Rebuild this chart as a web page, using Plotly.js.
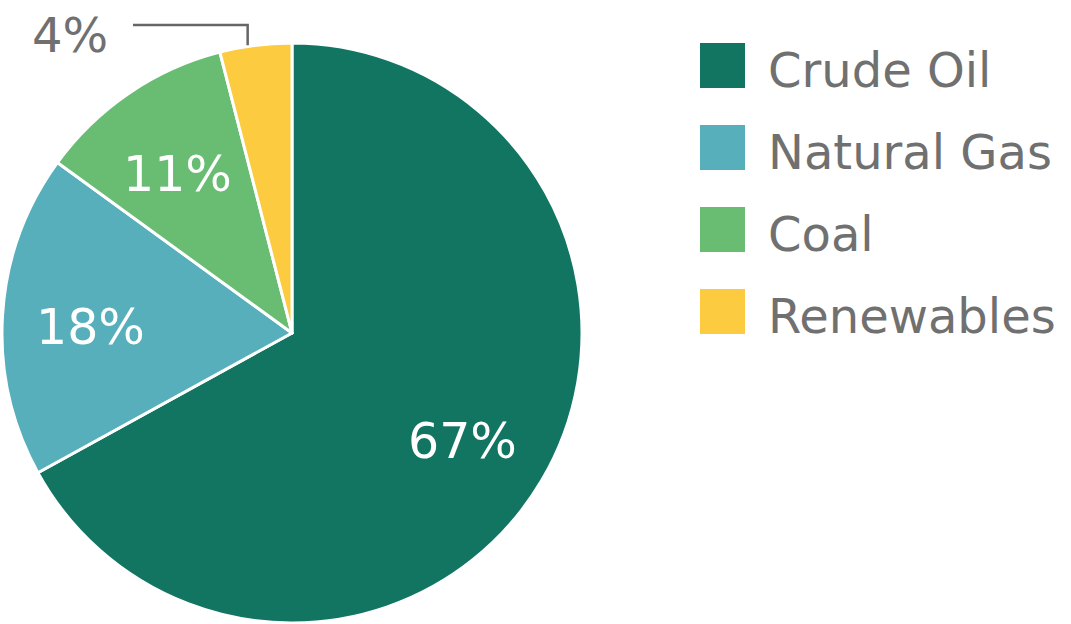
<!DOCTYPE html>
<html>
<head>
<meta charset="utf-8">
<script src="https://cdn.plot.ly/plotly-3.0.1.min.js"></script>
<style>html,body{margin:0;padding:0;background:#fff;}#chart{width:1071px;height:624px;}</style>
</head>
<body>
<div id="chart"></div>
<script>
// Data
const categories = ["Crude Oil", "Natural Gas", "Coal", "Renewables"];
const shares = [67, 18, 11, 4];
const colors = ["#127562", "#56afbb", "#68bd73", "#fdcb3f"];

const W = 1071, H = 624;
const cx = 292, cy = 333, R = 290;
const px = x => x / W;
const py = y => 1 - y / H;
const FONT = "DejaVu Sans";
const GRAY = "#707070";

const trace = {
  type: "pie",
  labels: categories,
  values: shares,
  sort: false,
  direction: "clockwise",
  rotation: 0,
  marker: { colors: colors, line: { color: "#ffffff", width: 3 } },
  textinfo: "none",
  hoverinfo: "label+percent",
  showlegend: false,
  domain: { x: [px(cx - R), px(cx + R)], y: [py(cy + R), py(cy - R)] }
};

// label positions from cumulative angles
const total = shares.reduce((a, b) => a + b, 0);
const annotations = [];
const shapes = [];
let cum = 0;
shares.forEach((v, i) => {
  const mid = (cum + v / 2) / total * 2 * Math.PI;
  cum += v;
  const sx = Math.sin(mid), cyy = Math.cos(mid);
  if (v >= 10) {
    const r = 0.69 * R;
    annotations.push({
      x: px(cx + r * sx - 2), y: py(cy - r * cyy + 7), xref: "paper", yref: "paper",
      text: v + "%", showarrow: false, xanchor: "center", yanchor: "middle",
      font: { family: FONT, size: 49, color: "#ffffff" }
    });
  } else {
    const ex = cx + R * sx - 8, ey = cy - R * cyy;
    shapes.push({
      type: "path", xref: "paper", yref: "paper",
      path: `M ${px(133)} ${py(25)} L ${px(ex)} ${py(25)} L ${px(ex)} ${py(ey)}`,
      line: { color: "#666666", width: 2.5 }
    });
    annotations.push({
      x: px(70), y: py(35), xref: "paper", yref: "paper",
      text: v + "%", showarrow: false, xanchor: "center", yanchor: "middle",
      font: { family: FONT, size: 48, color: GRAY }
    });
  }
});

// custom legend
categories.forEach((c, i) => {
  const top = 43 + i * 82;
  shapes.push({
    type: "rect", xref: "paper", yref: "paper",
    x0: px(700), x1: px(745), y0: py(top + 45), y1: py(top),
    fillcolor: colors[i], line: { width: 0 }
  });
  annotations.push({
    x: px(766), y: py(top + 27), xref: "paper", yref: "paper",
    text: c, showarrow: false, xanchor: "left", yanchor: "middle",
    font: { family: FONT, size: 48, color: GRAY }
  });
});

const layout = {
  width: W, height: H,
  margin: { l: 0, r: 0, t: 0, b: 0 },
  paper_bgcolor: "#ffffff",
  showlegend: false,
  annotations: annotations,
  shapes: shapes
};

Plotly.newPlot("chart", [trace], layout, { displayModeBar: false, staticPlot: true });
</script>
</body>
</html>
